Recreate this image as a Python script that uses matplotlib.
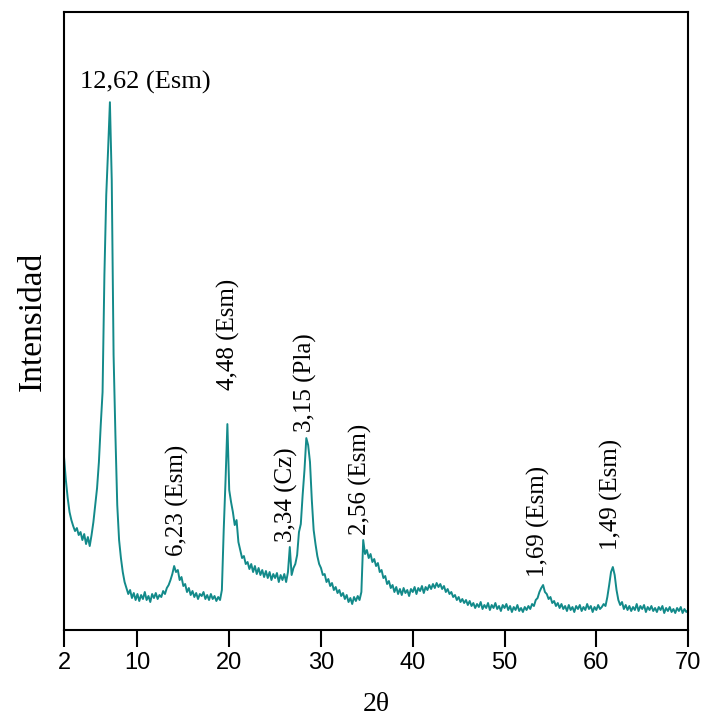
import numpy as np
import matplotlib
matplotlib.use("Agg")
import matplotlib.pyplot as plt

# =============================================================================
# XRD pattern (2theta step 0.2, intensity in arbitrary units)
# =============================================================================

two_theta = np.round(np.arange(2.0, 70.0001, 0.2), 1)

intensity = [
    173, 150, 132, 118, 110, 104, 99, 102, 95, 98,      # 2.0 - 3.8
    90, 96, 86, 93, 84, 95, 108, 125, 142, 168,         # 4.0 - 5.8
    205, 238, 355, 435, 480, 528, 450, 275, 195, 125,   # 6.0 - 7.8
    90, 72, 58, 48, 42, 36, 40, 32, 37, 30,             # 8.0 - 9.8
    36, 29, 35, 31, 38, 30, 34, 28, 36, 32,             # 10.0 - 11.8
    37, 31, 35, 33, 39, 36, 42, 45, 50, 56,             # 12.0 - 13.8
    64, 58, 60, 50, 53, 44, 46, 38, 42, 35,             # 14.0 - 15.8
    39, 33, 37, 31, 36, 34, 38, 31, 35, 30,             # 16.0 - 17.8
    36, 31, 34, 29, 33, 30, 40, 100, 150, 206,          # 18.0 - 19.8
    140, 128, 118, 105, 110, 88, 80, 72, 74, 66,        # 20.0 - 21.8
    68, 61, 66, 58, 64, 56, 62, 55, 60, 53,             # 22.0 - 23.8
    59, 52, 58, 50, 56, 52, 57, 48, 55, 50,             # 24.0 - 25.8
    56, 48, 58, 83, 55, 62, 66, 75, 98, 106,            # 26.0 - 27.8
    135, 160, 192, 185, 168, 130, 100, 86, 74, 66,      # 28.0 - 29.8
    62, 55, 56, 48, 51, 44, 47, 40, 43, 37,             # 30.0 - 31.8
    40, 34, 37, 31, 35, 28, 32, 26, 33, 29,             # 32.0 - 33.8
    34, 30, 38, 90, 76, 80, 72, 76, 68, 71,             # 34.0 - 35.8
    64, 67, 58, 60, 52, 54, 46, 49, 42, 45,             # 36.0 - 37.8
    38, 43, 36, 41, 35, 42, 37, 40, 34, 41,             # 38.0 - 39.8
    38, 43, 36, 42, 39, 44, 37, 43, 40, 45,             # 40.0 - 41.8
    41, 46, 42, 47, 43, 46, 41, 44, 38, 41,             # 42.0 - 43.8
    36, 38, 33, 35, 30, 33, 28, 31, 27, 30,             # 44.0 - 45.8
    25, 29, 24, 27, 22, 26, 23, 28, 21, 25,             # 46.0 - 47.8
    22, 27, 20, 25, 22, 27, 21, 24, 19, 25,             # 48.0 - 49.8
    22, 26, 20, 24, 18, 23, 20, 25, 19, 22,             # 50.0 - 51.8
    18, 23, 20, 24, 21, 26, 24, 30, 32, 38,             # 52.0 - 53.8
    42, 45, 38, 36, 31, 33, 27, 29, 24, 27,             # 54.0 - 55.8
    22, 26, 21, 24, 19, 25, 20, 23, 18, 24,             # 56.0 - 57.8
    21, 25, 19, 23, 20, 26, 21, 24, 18, 23,             # 58.0 - 59.8
    20, 25, 21, 23, 26, 24, 33, 45, 58, 63,             # 60.0 - 61.8
    55, 40, 30, 25, 28, 21, 25, 20, 24, 19,             # 62.0 - 63.8
    23, 20, 26, 19, 24, 21, 25, 18, 23, 20,             # 64.0 - 65.8
    24, 19, 22, 18, 23, 20, 24, 17, 22, 19,             # 66.0 - 67.8
    23, 18, 21, 17, 22, 19, 23, 17, 21, 18,             # 68.0 - 69.8
    20,                                                 # 70.0
]

# peak labels: text, x, y, rotation
peak_labels = ["12,62 (Esm)", "6,23 (Esm)", "4,48 (Esm)", "3,34 (Cz)",
               "3,15 (Pla)", "2,56 (Esm)", "1,69 (Esm)", "1,49 (Esm)"]
label_x = [10.9, 14.4, 19.9, 26.2, 28.3, 34.3, 53.7, 61.6]
label_y = [542, 74, 240, 88, 198, 95, 53, 80]
label_rot = [0, 90, 90, 90, 90, 90, 90, 90]

xticks = [2, 10, 20, 30, 40, 50, 60, 70]

serif = ["Liberation Serif", "DejaVu Serif"]
sans = ["Liberation Sans Narrow", "Liberation Sans", "DejaVu Sans"]

fig = plt.figure(figsize=(7.02, 7.2), dpi=100)
ax = fig.add_axes([0.0912, 0.125, 0.889, 0.858])

ax.plot(two_theta, intensity, color="#138a8a", lw=1.4)

for txt, x, y, r in zip(peak_labels, label_x, label_y, label_rot):
    if r == 0:
        ax.text(x, y, txt, ha="center", va="baseline", fontsize=19,
                family=serif)
    else:
        ax.text(x, y, txt, ha="center", va="bottom", rotation=90,
                fontsize=18, family=serif)

ax.set_xlim(2, 70)
ax.set_ylim(0, 618)
ax.set_xticks(xticks)
ax.set_xticklabels([str(t) for t in xticks], family=sans, fontsize=17)
ax.set_yticks([])
ax.tick_params(axis="x", direction="out", length=12, width=1.5, pad=4)

for sp in ax.spines.values():
    sp.set_linewidth(1.5)

ax.set_xlabel("2θ", family=serif, fontsize=20, labelpad=13)
ax.set_ylabel("Intensidad", family=serif, fontsize=24, labelpad=12)

fig.savefig("out.png", dpi=100)
